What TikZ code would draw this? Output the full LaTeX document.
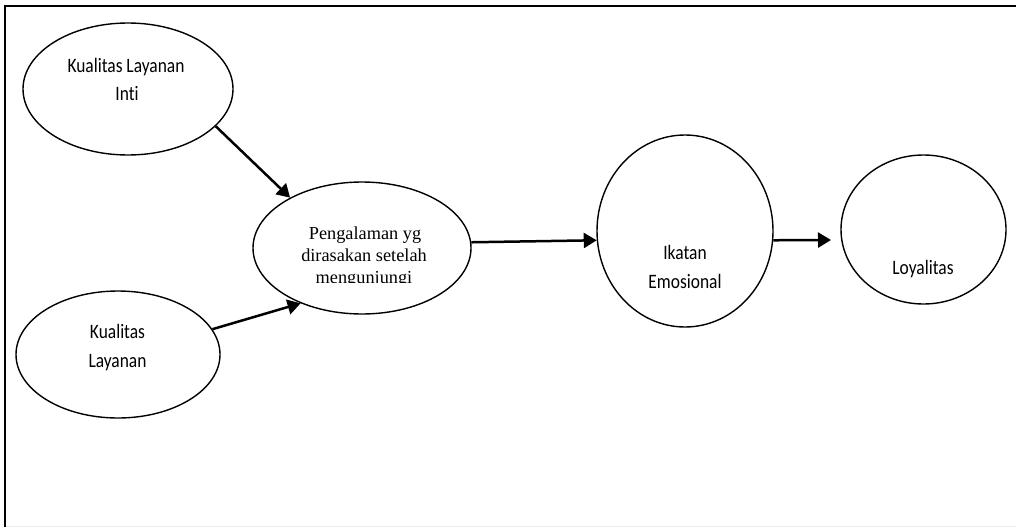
\documentclass[tikz,border=0pt]{standalone}
\usepackage{fontspec}
\newfontfamily\calfont[FakeStretch=0.85,Ligatures={NoCommon}]{Carlito}
\newfontfamily\timesfont{Liberation Serif}
\usetikzlibrary{arrows.meta,shapes.geometric}
\tikzset{
  construct/.style={draw, ellipse, line width=1.4pt, inner sep=0pt, minimum width=#1},
  lbl/.style={anchor=base, inner sep=0pt, font=\calfont\fontsize{20.5}{24}\selectfont},
  serif/.style={anchor=base, inner sep=0pt, font=\timesfont\fontsize{18.3}{21}\selectfont},
  link/.style={line width=2.5pt, -{Triangle[length=13pt,width=15pt]}},
}
\begin{document}
\begin{tikzpicture}[x=1pt, y=-1pt]
\useasboundingbox (0,0) rectangle (1016,527);
% frame
\draw[line width=0.8pt, black!8] (6,526) -- (1016,526);
\draw[line width=2pt] (5,527) -- (5,6) -- (1016,6);

% constructs
\node[construct=210pt, minimum height=132pt] (kli) at (128,89) {};
\node[construct=204pt, minimum height=127pt] (kl) at (118,354.5) {};
\node[construct=218pt, minimum height=132pt] (peng) at (362,248) {};
\node[construct=176pt, minimum height=192pt] (ikat) at (685,231) {};
\node[construct=165pt, minimum height=149pt] (loy) at (923.5,229.5) {};

% labels
\node[lbl] (kli1) at (126,72.6) {Kualitas Layanan};
\node[lbl] (kli2) at (127,100.6) {Inti};
\node[lbl] (kl1) at (117.5,338.3) {Kualitas};
\node[lbl] (kl2) at (117.5,367.6) {Layanan};
\node[serif] (peng1) at (365,239) {Pengalaman yg};
\node[serif] (peng2) at (364,261) {dirasakan setelah};
% the third line is cut off at its baseline
\begin{scope}
  \clip (250,265) rectangle (480,282.6);
  \node[serif] (peng3) at (364,283) {mengunjungi};
\end{scope}
\node[lbl] (ikat1) at (685,259) {Ikatan};
\node[lbl] (ikat2) at (685,288) {Emosional};
\node[lbl] (loy1) at (923,274.5) {Loyalitas};

% paths
\coordinate (loyin) at (831,240);
\draw[link] (kli.-23) -- (peng.145.6);
\draw[link] (kl.15) -- (peng.-138.5);
\draw[link] (peng.3.7) -- (ikat.186.5);
\draw[link] (ikat.-6) -- (loyin);
\end{tikzpicture}
\end{document}
